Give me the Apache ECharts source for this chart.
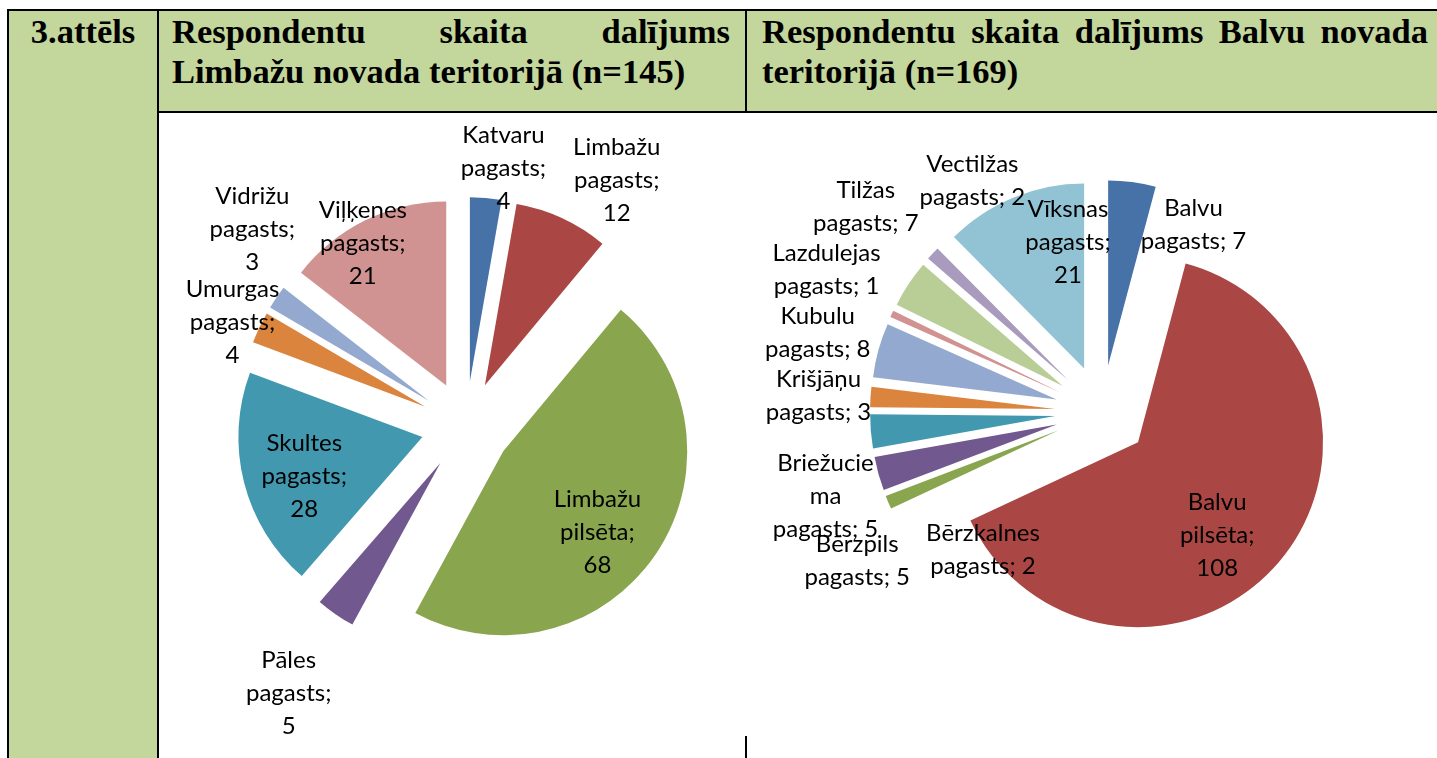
<!DOCTYPE html>
<html>
<head>
<meta charset="utf-8">
<script src="https://cdn.jsdelivr.net/npm/echarts@6/dist/echarts.min.js"></script>
<style>
  body { margin: 0; width: 1437px; height: 758px; overflow: hidden; background: #fff; position: relative; }
  .cell { position: absolute; box-sizing: border-box; background: #C3D69B; border: 0 solid #000;
          font-family: 'Liberation Serif', serif; font-weight: bold; font-size: 34.5px; line-height: 40px; color: #000; }
  #fig { left: 7px; top: 9px; width: 152px; height: 760px; border-width: 2px 2px 0 2px; text-align: center; }
  #head1 { left: 159px; top: 9px; width: 588px; height: 104px; border-width: 2px 2px 2px 0; padding: 0 15px 0 13px; }
  #head2 { left: 747px; top: 9px; width: 700px; height: 104px; border-width: 2px 0 2px 0; padding: 0 19px 0 15px; }
  .just { text-align: justify; text-align-last: justify; }
  #tick { position: absolute; left: 745px; top: 736px; width: 2px; height: 22px; background: #000; }
  #chart { position: absolute; left: 0; top: 0; width: 1437px; height: 758px; }
</style>
</head>
<body>
<div class="cell" id="fig">3.attēls</div>
<div class="cell" id="head1">
  <div class="just">Respondentu skaita dalījums</div>
  <div>Limbažu novada teritorijā (n=145)</div>
</div>
<div class="cell" id="head2">
  <div class="just">Respondentu skaita dalījums Balvu novada</div>
  <div>teritorijā (n=169)</div>
</div>
<div id="tick"></div>
<div id="chart"></div>
<script>
// Limbažu novads (n=145)
var limbaziNames = ['Katvaru pagasts', 'Limbažu pagasts', 'Limbažu pilsēta', 'Pāles pagasts',
  'Skultes pagasts', 'Umurgas pagasts', 'Vidrižu pagasts', 'Viļķenes pagasts'];
var limbaziValues = [4, 12, 68, 5, 28, 4, 3, 21];

// Balvu novads (n=169)
var balviNames = ['Balvu pagasts', 'Balvu pilsēta', 'Bērzkalnes pagasts', 'Bērzpils pagasts',
  'Briežuciema pagasts', 'Krišjāņu pagasts', 'Kubulu pagasts', 'Lazdulejas pagasts',
  'Tilžas pagasts', 'Vectilžas pagasts', 'Vīksnas pagasts'];
var balviValues = [7, 108, 2, 5, 5, 3, 8, 1, 7, 2, 21];

var sliceColors = ['#4672A8', '#AA4644', '#89A54E', '#71588F', '#4198AF', '#DB843D',
  '#93A9CF', '#D19392', '#B9CD96', '#A99BBD', '#92C3D4'];

// label placement: [labelLine length, labelLine length2, wrap width]
var limbaziLabels = [[30, -55, 95], [42, -33, 95], [-40, -95, 95], [96, -78, 95],
  [-26, -105, 95], [13, -55, 95], [121, -146, 95], [-26, -56, 95]];
var balviLabels = [[-43, -3, 125], [-40, -102, 95], [123, -278, 125], [328, -365, 125],
  [774, -796, 108], [13, -31, 125], [65, -72, 125], [104, -99, 125],
  [139, -143, 125], [106, -187, 125], [-48, -106, 95]];

var ctx = document.createElement('canvas').getContext('2d');
ctx.font = '24px Lato';

// word wrap like Excel: break on spaces, split words that are too long
function wrap(text, maxW) {
  var lines = [], cur = '';
  text.split(' ').forEach(function (word) {
    var test = cur ? cur + ' ' + word : word;
    if (ctx.measureText(test).width <= maxW) { cur = test; return; }
    if (cur) lines.push(cur);
    var w = word;
    while (ctx.measureText(w).width > maxW && w.length > 1) {
      var i = w.length;
      while (i > 1 && ctx.measureText(w.slice(0, i)).width > maxW) i--;
      lines.push(w.slice(0, i));
      w = w.slice(i);
    }
    cur = w;
  });
  if (cur) lines.push(cur);
  return lines;
}

function pieSeries(names, values, labels, center, radius, offset) {
  return {
    type: 'pie',
    center: center,
    radius: radius,
    startAngle: 90,
    clockwise: true,
    selectedMode: 'multiple',
    selectedOffset: offset,
    avoidLabelOverlap: false,
    labelLayout: { hideOverlap: false },
    animation: false,
    itemStyle: { borderWidth: 0 },
    emphasis: { disabled: true },
    labelLine: { show: false },
    label: {
      show: true,
      position: 'outside',
      width: 130,
      formatter: function (p) {
        return wrap(p.name + '; ' + p.value, labels[p.dataIndex][2]).map(function (l) {
          return '{t|' + l + '}';
        }).join('\n');
      },
      rich: {
        t: { align: 'center', fontFamily: 'Lato', fontSize: 24, lineHeight: 33, color: '#000' }
      }
    },
    data: names.map(function (n, i) {
      return {
        name: n,
        value: values[i],
        selected: true,
        itemStyle: { color: sliceColors[i] },
        labelLine: { show: false, length: labels[i][0], length2: labels[i][1] }
      };
    })
  };
}

var myChart = echarts.init(document.getElementById('chart'));
myChart.setOption({
  animation: false,
  series: [
    pieSeries(limbaziNames, limbaziValues, limbaziLabels, [466, 426], 184, 45),
    pieSeries(balviNames, balviValues, balviLabels, [1102, 412], 185, 47)
  ]
});
</script>
</body>
</html>
